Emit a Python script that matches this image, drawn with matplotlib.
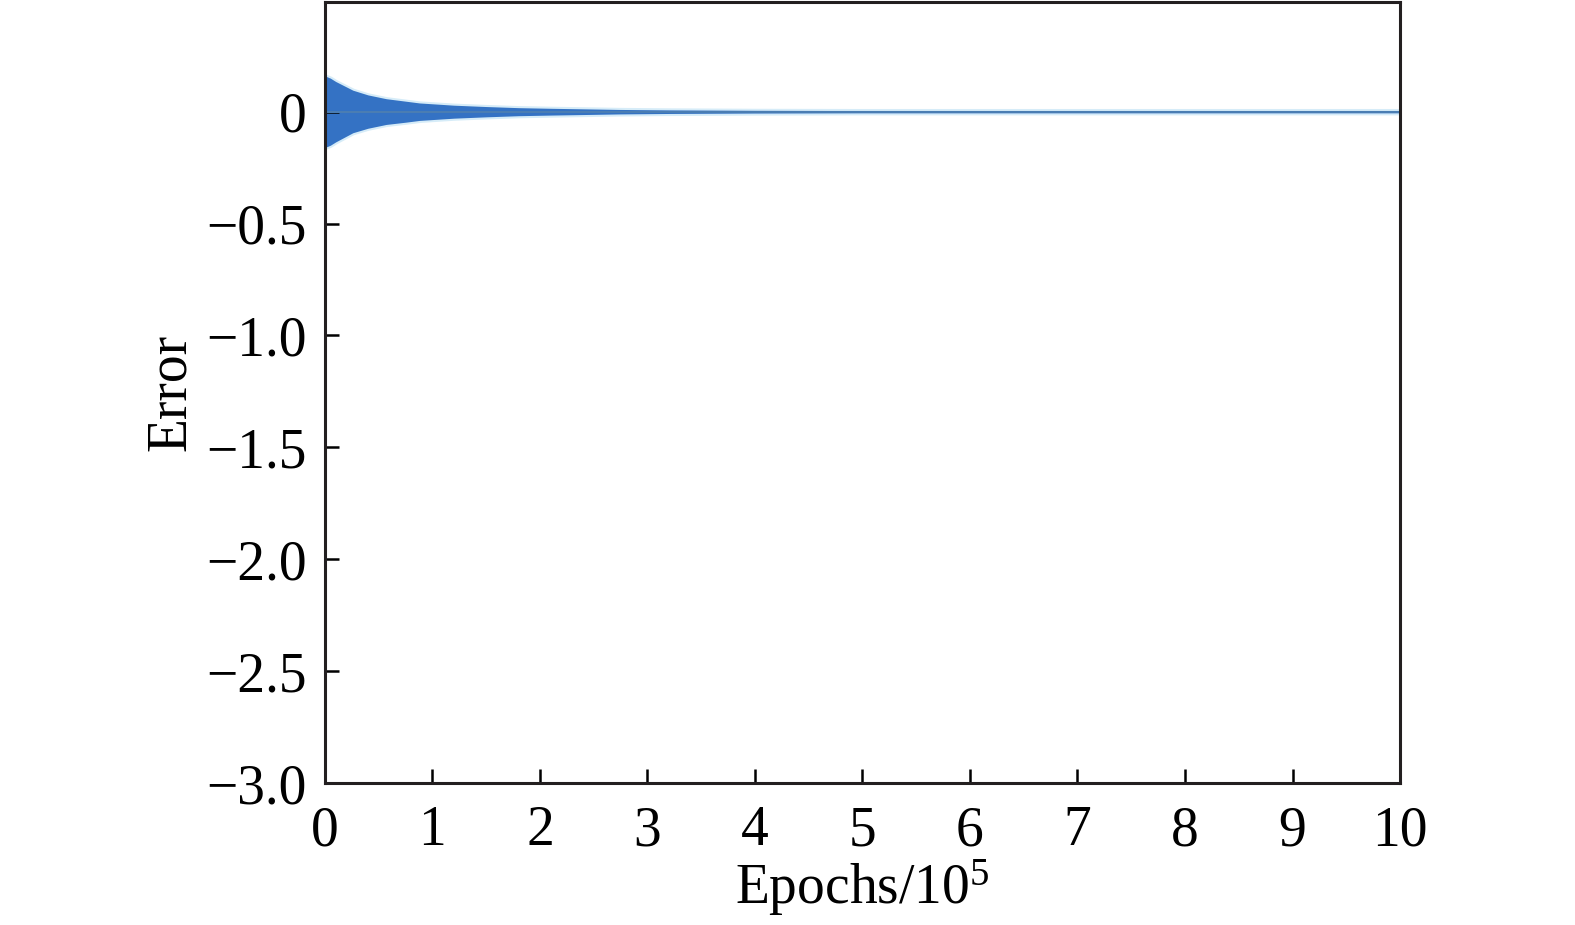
import matplotlib
matplotlib.use("Agg")
import matplotlib.pyplot as plt

# envelope of the error signal
epochs = [0, 0.05, 0.1, 0.26, 0.4, 0.57, 0.75, 0.88, 1.2, 1.5, 1.8, 2.12,
          2.5, 2.74, 3.2, 4, 5, 6, 7, 8, 9, 10]
err_upper = [0.16, 0.15, 0.135, 0.096, 0.075, 0.058, 0.047, 0.039, 0.029,
             0.023, 0.018, 0.015, 0.012, 0.010, 0.008, 0.006, 0.005, 0.005,
             0.005, 0.005, 0.005, 0.005]
err_lower = [-0.16, -0.15, -0.135, -0.094, -0.074, -0.057, -0.047, -0.039,
             -0.029, -0.023, -0.018, -0.015, -0.012, -0.010, -0.008, -0.006,
             -0.005, -0.005, -0.005, -0.005, -0.005, -0.005]

xticks = list(range(0, 11))
yticks = [0, -0.5, -1.0, -1.5, -2.0, -2.5, -3.0]
ytick_labels = ["0", "\u22120.5", "\u22121.0", "\u22121.5", "\u22122.0", "\u22122.5", "\u22123.0"]

plt.rcParams['font.family'] = ['Liberation Serif', 'DejaVu Serif']
plt.rcParams['mathtext.fontset'] = 'custom'
plt.rcParams['mathtext.rm'] = 'Liberation Serif'
plt.rcParams['mathtext.it'] = 'Liberation Serif'

fig = plt.figure(figsize=(15.75, 9.25), dpi=100)
ax = fig.add_axes([0.2063, 0.1535, 0.6826, 0.8443])

ax.fill_between(epochs, err_lower, err_upper, color='#d6ecf8', lw=3)
ax.fill_between(epochs, err_lower, err_upper, color='#3472c4', lw=0)
ax.axhline(0, color='#4a7db3', lw=1.5)

ax.set_xlim(0, 10)
ax.set_ylim(-3.0, 0.49)
ax.set_xticks(xticks)
ax.set_yticks(yticks)
ax.set_yticklabels(ytick_labels)
ax.tick_params(direction='in', length=10, width=1.8, labelsize=40,
               top=False, right=False)
ax.tick_params(axis='x', pad=16)
ax.tick_params(axis='y', pad=13)
for s in ax.spines.values():
    s.set_linewidth(2.2)
    s.set_color('#231f20')

ax.set_xlabel("Epochs/10$^5$", fontsize=40, labelpad=0)
ax.set_ylabel("Error", fontsize=40, labelpad=7)

fig.savefig("out.png", dpi=100)
